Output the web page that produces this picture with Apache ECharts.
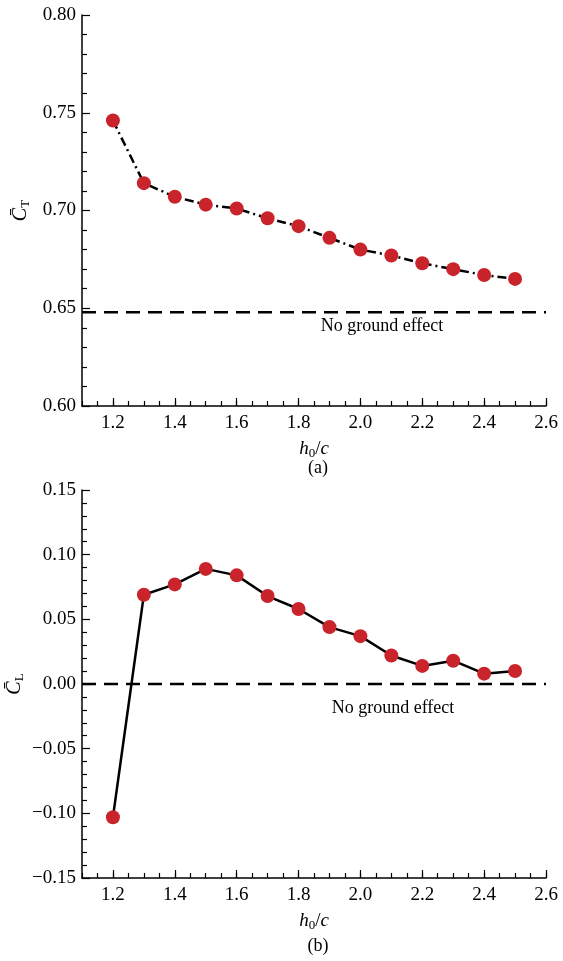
<!DOCTYPE html>
<html>
<head>
<meta charset="utf-8">
<script src="https://cdn.jsdelivr.net/npm/echarts@6/dist/echarts.min.js"></script>
<style>
  html, body { margin: 0; padding: 0; background: #fff; }
  #chart { width: 563px; height: 961px; }
</style>
</head>
<body>
<div id="chart"></div>
<script>
// h0/c positions of the samples
const h0c = [1.2, 1.3, 1.4, 1.5, 1.6, 1.7, 1.8, 1.9, 2.0, 2.1, 2.2, 2.3, 2.4, 2.5];
// (a) mean thrust coefficient
const ctValues = [0.746, 0.714, 0.707, 0.703, 0.701, 0.696, 0.692, 0.686, 0.680, 0.677, 0.673, 0.670, 0.667, 0.665];
// (b) mean lift coefficient
const clValues = [-0.103, 0.069, 0.077, 0.089, 0.084, 0.068, 0.058, 0.044, 0.037, 0.022, 0.014, 0.018, 0.008, 0.010];
// reference levels without ground
const ctNoGround = 0.648;
const clNoGround = 0.0;
const xRange = [1.1, 2.6];
const xTickLabels = [1.2, 1.4, 1.6, 1.8, 2.0, 2.2, 2.4, 2.6];

const red = "#c9232b";
const font = "Liberation Serif";

const pairs = (xs, ys) => xs.map((x, i) => [x, ys[i]]);
const flat = (v) => xRange.map((x) => [x, v]);

function xAxes(gridIndex) {
  return [
    {
      gridIndex,
      type: "value",
      position: "bottom",
      min: xRange[0],
      max: xRange[1],
      interval: 0.05,
      axisLine: { show: true, onZero: false, lineStyle: { color: "#000", width: 1.5 } },
      axisTick: { show: true, inside: true, length: 5, lineStyle: { color: "#000", width: 1.2 } },
      axisLabel: {
        customValues: xTickLabels,
        formatter: (v) => v.toFixed(1),
        color: "#000",
        fontFamily: font,
        fontSize: 19,
        margin: 8,
      },
      splitLine: { show: false },
      name: "{i|h}{s|0}{n|/}{i|c}",
      nameLocation: "middle",
      nameGap: 32,
      nameMoveOverlap: false,
      nameTextStyle: {
        rich: {
          i: { fontFamily: font, fontSize: 19, fontStyle: "italic", color: "#000" },
          n: { fontFamily: font, fontSize: 19, color: "#000" },
          s: { fontFamily: font, fontSize: 13, color: "#000", padding: [9, 0, 0, 0] },
        },
      },
    },
    {
      gridIndex,
      type: "value",
      position: "bottom",
      min: xRange[0],
      max: xRange[1],
      interval: 0.05,
      axisLine: { show: false, onZero: false },
      axisTick: {
        show: true,
        inside: true,
        length: 8,
        customValues: xTickLabels,
        lineStyle: { color: "#000", width: 1.2 },
      },
      axisLabel: { show: false },
      splitLine: { show: false },
    },
  ];
}

function yAxis(gridIndex, min, max, sub, gap) {
  return {
    gridIndex,
    type: "value",
    min,
    max,
    interval: 0.05,
    axisLine: { show: true, onZero: false, lineStyle: { color: "#000", width: 1.5 } },
    axisTick: { show: true, inside: true, length: 8, lineStyle: { color: "#000", width: 1.2 } },
    minorTick: { show: true, splitNumber: 5, length: 5, lineStyle: { color: "#000", width: 1.2 } },
    axisLabel: {
      formatter: (v) => v.toFixed(2).replace("-", "\u2212"),
      color: "#000",
      fontFamily: font,
      fontSize: 19,
      margin: 6,
    },
    splitLine: { show: false },
    name: "{c|C\u0304}{s|" + sub + "}",
    nameLocation: "middle",
    nameRotate: 90,
    nameGap: gap,
    nameMoveOverlap: false,
    nameTextStyle: {
      rich: {
        c: { fontFamily: font, fontSize: 20, fontStyle: "italic", color: "#000" },
        s: { fontFamily: font, fontSize: 13, color: "#000", padding: [9, 0, 0, 0] },
      },
    },
  };
}

const chart = echarts.init(document.getElementById("chart"), null, { renderer: "canvas" });

chart.setOption({
  backgroundColor: "#fff",
  animation: false,
  grid: [
    { left: 82, top: 15, width: 464, height: 391, containLabel: false, outerBoundsMode: "none" },
    { left: 82, top: 490, width: 464, height: 388, containLabel: false, outerBoundsMode: "none" },
  ],
  xAxis: [...xAxes(0), ...xAxes(1)],
  yAxis: [yAxis(0, 0.6, 0.8, "T", 50), yAxis(1, -0.15, 0.15, "L", 56)],
  series: [
    {
      type: "line",
      xAxisIndex: 0,
      yAxisIndex: 0,
      data: flat(ctNoGround),
      symbol: "none",
      lineStyle: { color: "#000", width: 2.5, type: [14, 8] },
      z: 1,
    },
    {
      type: "line",
      xAxisIndex: 0,
      yAxisIndex: 0,
      data: pairs(h0c, ctValues),
      symbol: "circle",
      symbolSize: 14,
      itemStyle: { color: red },
      lineStyle: { color: "#000", width: 2.5, type: [9, 4, 2, 4] },
      z: 3,
    },
    {
      type: "line",
      xAxisIndex: 2,
      yAxisIndex: 1,
      data: flat(clNoGround),
      symbol: "none",
      lineStyle: { color: "#000", width: 2.5, type: [14, 8] },
      z: 1,
    },
    {
      type: "line",
      xAxisIndex: 2,
      yAxisIndex: 1,
      data: pairs(h0c, clValues),
      symbol: "circle",
      symbolSize: 14,
      itemStyle: { color: red },
      lineStyle: { color: "#000", width: 2.5 },
      z: 3,
    },
  ],
  graphic: [
    {
      type: "text",
      x: 382,
      y: 326,
      style: { text: "No ground effect", fontFamily: font, fontSize: 18, fill: "#000", align: "center", verticalAlign: "middle" },
    },
    {
      type: "text",
      x: 393,
      y: 708,
      style: { text: "No ground effect", fontFamily: font, fontSize: 18, fill: "#000", align: "center", verticalAlign: "middle" },
    },
    {
      type: "text",
      x: 318,
      y: 468,
      style: { text: "(a)", fontFamily: font, fontSize: 18, fill: "#000", align: "center", verticalAlign: "middle" },
    },
    {
      type: "text",
      x: 318,
      y: 946,
      style: { text: "(b)", fontFamily: font, fontSize: 18, fill: "#000", align: "center", verticalAlign: "middle" },
    },
  ],
});
</script>
</body>
</html>
